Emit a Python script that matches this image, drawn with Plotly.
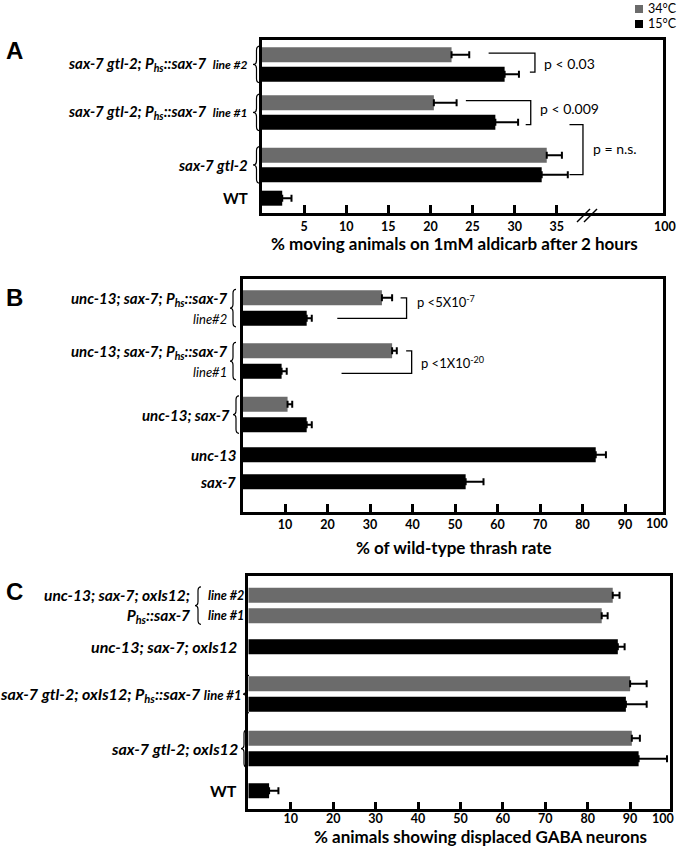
import plotly.graph_objects as go

W, H = 680, 848
GRAY = "#6b6b6b"
BLACK = "#000000"
FONT = "Lato"

# ---------------- data ----------------
# Panel A : % moving animals on 1mM aldicarb after 2 hours
A_group_labels = [
    "<b><i>sax-7 gtl-2; P<sub>hs</sub>::sax-7  <span style='font-size:12px'>line #2</span></i></b>",
    "<b><i>sax-7 gtl-2; P<sub>hs</sub>::sax-7  <span style='font-size:12px'>line #1</span></i></b>",
    "<b><i>sax-7 gtl-2</i></b>",
    "<b>WT</b>",
]
A_bar_group = [0, 0, 1, 1, 2, 2, 3]
A_bar_temp = ["34", "15", "34", "15", "34", "15", "15"]
A_bar_value = [22.5, 28.8, 20.4, 27.7, 33.8, 33.2, 2.4]
A_bar_error = [2.1, 1.7, 2.7, 2.7, 1.8, 3.1, 1.1]
A_tick_vals = [5, 10, 15, 20, 25, 30, 35]

# Panel B : % of wild-type thrash rate
B_group_labels = [
    "<b><i>unc-13; sax-7; P<sub>hs</sub>::sax-7</i></b><br><i><span style='font-size:13px'>line#2</span></i>",
    "<b><i>unc-13; sax-7; P<sub>hs</sub>::sax-7</i></b><br><i><span style='font-size:13px'>line#1</span></i>",
    "<b><i>unc-13; sax-7</i></b>",
    "<b><i>unc-13</i></b>",
    "<b><i>sax-7</i></b>",
]
B_bar_group = [0, 0, 1, 1, 2, 2, 3, 4]
B_bar_temp = ["34", "15", "34", "15", "34", "15", "15", "15"]
B_bar_value = [32.8, 15.1, 35.2, 9.2, 10.6, 15.1, 83.1, 52.5]
B_bar_error = [2.4, 1.2, 1.1, 1.2, 1.1, 1.2, 2.4, 4.2]
B_tick_vals = [10, 20, 30, 40, 50, 60, 70, 80, 90]

# Panel C : % animals showing displaced GABA neurons
C_group_labels = [
    "<b><i>unc-13; sax-7; oxIs12;<br>P<sub>hs</sub>::sax-7</i></b>",
    "<b><i>unc-13; sax-7; oxIs12</i></b>",
    "<b><i>sax-7 gtl-2; oxIs12; P<sub>hs</sub>::sax-7 <span style='font-size:13px'>line #1</span></i></b>",
    "<b><i>sax-7 gtl-2; oxIs12</i></b>",
    "<b>WT</b>",
]
C_line_labels = ["line #2", "line #1"]
C_bar_group = [0, 0, 1, 2, 2, 3, 3, 4]
C_bar_temp = ["34", "34", "15", "34", "15", "34", "15", "15"]
C_bar_value = [85.9, 83.3, 87.1, 90.0, 89.0, 90.4, 92.0, 4.9]
C_bar_error = [1.6, 1.4, 1.6, 3.9, 4.9, 1.9, 6.7, 2.2]
C_tick_vals = [10, 20, 30, 40, 50, 60, 70, 80, 90]

temps = {"34": ("34°C", GRAY), "15": ("15°C", BLACK)}

# ---------------- layout helpers ----------------
def positions(groups, slot, gaps):
    pos, cur, prev = [], 0.0, None
    for g in groups:
        if prev is not None:
            cur += slot + (gaps.get(g, 0) if g != prev else 0)
        pos.append(cur)
        prev = g
    return pos

panels = {
    "A": dict(left=262, right=663, top=40, bottom=213, xmax=47.6, pad=14.7, slot=19.5,
              gaps={1: 9, 2: 13.5, 3: 4}, groups=A_bar_group, temp=A_bar_temp,
              val=A_bar_value, err=A_bar_error, ticks=A_tick_vals, standoff=0, label_y=226,
              title="% moving animals on 1mM aldicarb after 2 hours", title_x=455, title_y=243,
              x100=665),
    "B": dict(left=242.5, right=663.3, top=279.3, bottom=511.7, xmax=99.0, pad=18.5, slot=20.5,
              gaps={1: 12, 2: 12.5, 3: 9.5, 4: 6.5}, groups=B_bar_group, temp=B_bar_temp,
              val=B_bar_value, err=B_bar_error, ticks=B_tick_vals, standoff=0, label_y=523,
              title="% of wild-type thrash rate", title_x=454, title_y=547, x100=657),
    "C": dict(left=248.3, right=670, top=576, bottom=809.3, xmax=99.4, pad=19.3, slot=20.5,
              gaps={1: 10.5, 2: 16.5, 3: 13.5, 4: 11.5}, groups=C_bar_group, temp=C_bar_temp,
              val=C_bar_value, err=C_bar_error, ticks=C_tick_vals, standoff=-4, label_y=818,
              title="% animals showing displaced GABA neurons", title_x=480, title_y=836,
              x100=663),
}

def px(x):
    return x / W

def py(y):
    return 1 - y / H

fig = go.Figure()
annotations = []
shapes = []
axis_ids = {"A": ("x", "y", ""), "B": ("x2", "y2", "2"), "C": ("x3", "y3", "3")}

for key, p in panels.items():
    xr, yr, sfx = axis_ids[key]
    p["pos"] = positions(p["groups"], p["slot"], p["gaps"])
    for t in ["34", "15"]:
        idx = [i for i, tt in enumerate(p["temp"]) if tt == t]
        name, col = temps[t]
        fig.add_trace(go.Bar(
            x=[p["val"][i] for i in idx], y=[p["pos"][i] for i in idx],
            orientation="h", width=15, marker=dict(color=col, line=dict(width=0)),
            error_x=dict(type="data", symmetric=False, array=[p["err"][i] for i in idx],
                         arrayminus=[0] * len(idx), color="black", thickness=2, width=3.5),
            name=name, legendgroup=t, showlegend=False,
            xaxis=xr, yaxis=yr))
    hpx = p["bottom"] - p["top"]
    axis_common = dict(showline=True, mirror=True, linewidth=2.5, linecolor="black",
                       showgrid=False, zeroline=False)
    fig.layout["xaxis" + sfx] = dict(
        domain=[px(p["left"]), px(p["right"])], range=[0, p["xmax"]], anchor=yr,
        tickvals=p["ticks"], ticks="inside", ticklen=8, tickwidth=2.5, tickcolor="black",
        tickfont=dict(family=FONT, size=12.5, color="black", weight="bold"),
        ticklabelstandoff=p["standoff"], **axis_common)
    fig.layout["yaxis" + sfx] = dict(
        domain=[py(p["bottom"]), py(p["top"])], range=[hpx - p["pad"], -p["pad"]],
        anchor=xr, showticklabels=False, ticks="", **axis_common)
    # "100" label at the right end of the axis
    annotations.append(dict(text="<b>100</b>", xref="paper", yref="paper",
                            x=px(p["x100"]), y=py(p["label_y"]), xanchor="center",
                            yanchor="middle", showarrow=False,
                            font=dict(family=FONT, size=12.5, color="black")))
    # axis title
    annotations.append(dict(text="<b>" + p["title"] + "</b>", xref="paper", yref="paper",
                            x=px(p["title_x"]), y=py(p["title_y"]), xanchor="center",
                            yanchor="middle", showarrow=False,
                            font=dict(family=FONT, size=17, color="black")))

def label(text, xpx, yval, yref, size=15, anchor="right", align="right"):
    annotations.append(dict(text=text, xref="paper", yref=yref, x=px(xpx), y=yval,
                            xanchor=anchor, yanchor="middle", align=align, showarrow=False,
                            font=dict(family=FONT, size=size, color="black")))

def group_members(p, g):
    return [p["pos"][i] for i, gg in enumerate(p["groups"]) if gg == g]

def group_center(p, g):
    ys = group_members(p, g)
    return sum(ys) / len(ys)

def brace(p, g, yref, xl, xr, ext=8.5):
    ys = group_members(p, g)
    yt, yb = min(ys) - ext, max(ys) + ext
    ym = (yt + yb) / 2
    xl, xr = px(xl), px(xr)
    xm = (xl + xr) / 2
    r = 4
    path = (f"M {xr},{yt} Q {xm},{yt} {xm},{yt + r} L {xm},{ym - r} "
            f"Q {xm},{ym} {xl},{ym} Q {xm},{ym} {xm},{ym + r} "
            f"L {xm},{yb - r} Q {xm},{yb} {xr},{yb}")
    shapes.append(dict(type="path", xref="paper", yref=yref, path=path,
                       line=dict(color="black", width=1.2)))

# Panel A labels
pA = panels["A"]
for g, lab in enumerate(A_group_labels):
    label(lab, 250, group_center(pA, g), "y")
    if g < 3:
        brace(pA, g, "y", 253, 260)

# Panel B labels
pB = panels["B"]
for g, lab in enumerate(B_group_labels):
    yc = group_center(pB, g)
    if g < 2:
        label(lab, 229, yc, "y2")
        brace(pB, g, "y2", 230, 236)
    elif g == 2:
        label(lab, 232, yc, "y2")
        brace(pB, g, "y2", 233, 239)
    else:
        label(lab, 238, yc, "y2")

# Panel C labels
pC = panels["C"]
for g, lab in enumerate(C_group_labels):
    yc = group_center(pC, g)
    if g == 0:
        label(lab, 192, yc, "y3", size=15.5)
        brace(pC, g, "y3", 195, 201)
        for k, ll in enumerate(C_line_labels):
            label("<i><b>" + ll + "</b></i>", 206, pC["pos"][k], "y3", size=12.5,
                  anchor="left", align="left")
    elif g == 2:
        label(lab, 243, yc, "y3", size=16)
        brace(pC, g, "y3", 243, 249)
    elif g == 3:
        label(lab, 240, yc, "y3", size=16)
        brace(pC, g, "y3", 241, 247)
    else:
        label(lab, 239, yc, "y3", size=16)

# p-value brackets
def bracket(xref, yref, x_top0, x_top1, y_top, y_bot, x_bot0):
    shapes.append(dict(type="path", xref=xref, yref=yref,
                       path=f"M {x_top0},{y_top} L {x_top1},{y_top} L {x_top1},{y_bot} L {x_bot0},{y_bot}",
                       line=dict(color="black", width=1.3)))

posA = pA["pos"]
bracket("x", "y", 26.9, 32.4, posA[0] - 1.5, posA[1] - 2, 31.8)
bracket("x", "y", 24.2, 31.9, posA[2] - 2, posA[3] + 2.5, 31.3)
bracket("x", "y", 36.5, 38.1, posA[3] + 2.5, posA[5], 36.5)

def ptext(text, xref, yref, x, y, size=14):
    annotations.append(dict(text=text, xref=xref, yref=yref, x=x, y=y, xanchor="left",
                            yanchor="middle", showarrow=False,
                            font=dict(family=FONT, size=size, color="black")))

ptext("p &lt; 0.03", "x", "y", 33.2, group_center(pA, 0) - 1)
ptext("p &lt; 0.009", "x", "y", 32.75, group_center(pA, 1) - 3.5)
ptext("p = n.s.", "x", "y", 39.1, (posA[3] + posA[5]) / 2)

posB = pB["pos"]
bracket("x2", "y2", 37.2, 38.6, posB[0], posB[1], 22.3)
bracket("x2", "y2", 38.5, 39.8, posB[2], posB[3] + 2, 23.3)
ptext("p &lt;5X10<sup>-7</sup>", "x2", "y2", 40.6, posB[0] + 4, size=13)
ptext("p &lt;1X10<sup>-20</sup>", "x2", "y2", 41.6, group_center(pB, 1) + 1, size=13)

# axis break marks on panel A
for dx in (0, 7):
    shapes.append(dict(type="line", xref="paper", yref="paper",
                       x0=px(577 + dx), y0=py(222), x1=px(590 + dx), y1=py(209),
                       line=dict(color="black", width=1.5)))

# panel letters
for letter, ypx in (("A", 51), ("B", 297), ("C", 591)):
    annotations.append(dict(text="<b>" + letter + "</b>", xref="paper", yref="paper",
                            x=px(14), y=py(ypx), xanchor="center", yanchor="middle",
                            showarrow=False,
                            font=dict(family="Liberation Sans", size=24, color="black")))

# legend (drawn as squares + text)
for k, t in enumerate(["34", "15"]):
    name, col = temps[t]
    yc = 9 + 15 * k
    shapes.append(dict(type="rect", xref="paper", yref="paper",
                       x0=px(635), x1=px(643), y0=py(yc - 4), y1=py(yc + 4),
                       fillcolor=col, line=dict(width=0)))
    annotations.append(dict(text=name, xref="paper", yref="paper", x=px(646), y=py(yc),
                            xanchor="left", yanchor="middle", showarrow=False,
                            font=dict(family=FONT, size=12.5, color="black")))

fig.update_layout(
    width=W, height=H, margin=dict(l=0, r=0, t=0, b=0),
    paper_bgcolor="white", plot_bgcolor="white", barmode="overlay",
    annotations=annotations, shapes=shapes, showlegend=False,
)

fig.write_html("out.html", config={"displayModeBar": False},
               post_script="document.body.style.margin='0';document.body.style.overflow='hidden';")
